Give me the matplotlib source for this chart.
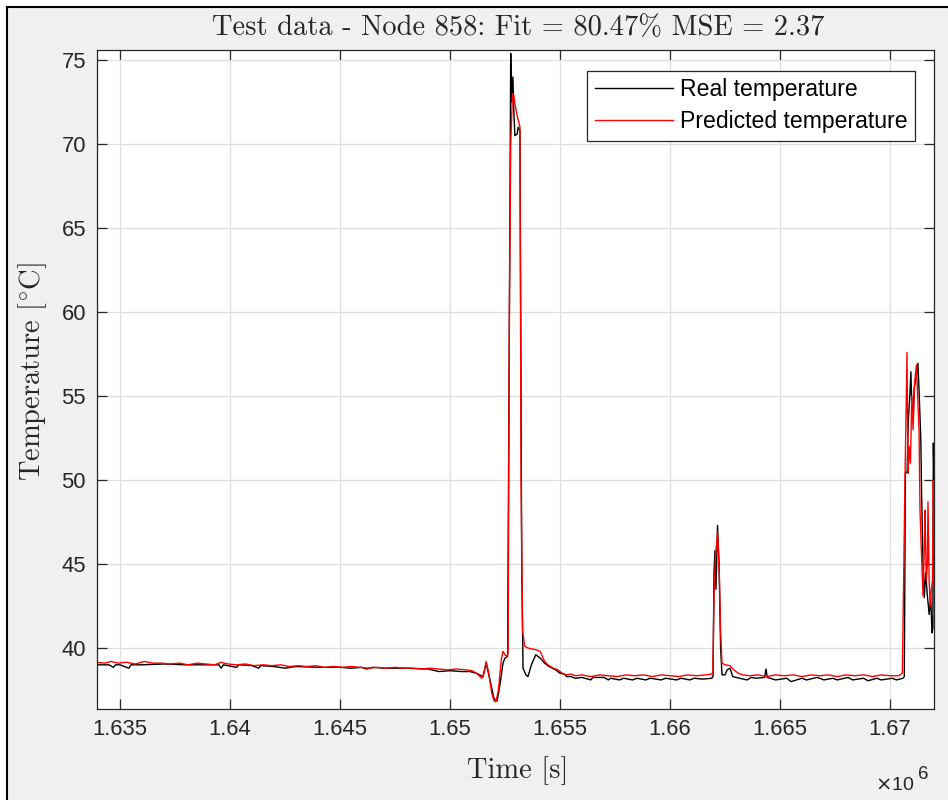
import numpy as np
import matplotlib.pyplot as plt
from matplotlib.patches import Rectangle
from matplotlib.lines import Line2D
from matplotlib.ticker import FuncFormatter

plt.rcParams['axes.unicode_minus'] = False

# ---- data (time in s, temperature in degC) ----
t_real = [
    1633950, 1634500, 1634700, 1634800, 1635000, 1635400, 1635500, 1636000,
    1637000, 1638000, 1639000, 1639500, 1639600, 1639700, 1640300, 1640400,
    1641000, 1641300, 1641400, 1642000, 1642500, 1643000, 1644000, 1645000,
    1645500, 1646000, 1646200, 1646500, 1647000, 1648000, 1649000, 1649500,
    1650000, 1650500, 1650900,
    1651200, 1651500, 1651640, 1651800, 1652000, 1652140, 1652270, 1652410,
    1652500, 1652620, 1652760, 1652800, 1652860, 1652900, 1652950, 1653050,
    1653100, 1653180, 1653260, 1653320, 1653450, 1653545, 1653700, 1653900,
    1654100, 1654300, 1654500, 1654800, 1655000, 1655200, 1655300, 1655500,
    1655700, 1656000, 1656400, 1656500, 1657000, 1657200, 1657300, 1657700,
    1657900, 1658300, 1658500, 1658900, 1659100, 1659600, 1659800, 1660300,
    1660500, 1660900, 1661100, 1661500, 1661900,
    1661955, 1662000, 1662045, 1662090, 1662160, 1662230, 1662300, 1662364,
    1662500, 1662600, 1662730, 1662850, 1663000, 1663500, 1663700, 1663900,
    1664300, 1664364, 1664420, 1664800, 1665300, 1665500, 1666000, 1666200,
    1666700, 1667000, 1667400, 1667600, 1668100, 1668300, 1668800, 1669000,
    1669400, 1669600, 1670100, 1670300, 1670590,
    1670650, 1670700, 1670780, 1670830, 1670900, 1670950, 1671000, 1671045,
    1671100, 1671180, 1671270, 1671330, 1671400, 1671440, 1671500, 1671560,
    1671620, 1671700, 1671780, 1671850, 1671910, 1671950, 1671970, 1672000,
]
temp_real = [
    39.0, 39.0, 38.85, 39.0, 39.0, 38.8, 39.0, 39.0,
    39.05, 39.0, 39.0, 39.0, 38.8, 39.0, 38.85, 39.0,
    38.95, 38.8, 38.95, 38.9, 38.8, 38.9, 38.85, 38.85,
    38.8, 38.85, 38.75, 38.85, 38.8, 38.8, 38.75, 38.6,
    38.65, 38.6, 38.6,
    38.5, 38.3, 39.1, 38.2, 37.0, 36.85, 37.8, 39.1,
    39.4, 39.5, 75.4, 72.5, 74.0, 72.0, 70.5, 70.6,
    71.0, 70.8, 45.0, 38.8, 38.4, 38.3, 39.0, 39.6,
    39.4, 39.1, 38.9, 38.7, 38.5, 38.45, 38.3, 38.3,
    38.2, 38.25, 38.1, 38.25, 38.25, 38.1, 38.2, 38.1,
    38.2, 38.1, 38.2, 38.1, 38.2, 38.1, 38.2, 38.1,
    38.2, 38.1, 38.2, 38.15, 38.2,
    38.3, 44.5, 45.8, 43.5, 47.3, 45.0, 40.0, 38.4,
    38.4, 38.7, 38.8, 38.3, 38.25, 38.1, 38.25, 38.2,
    38.25, 38.75, 38.25, 38.1, 38.2, 38.0, 38.2, 38.1,
    38.25, 38.1, 38.2, 38.1, 38.25, 38.1, 38.2, 38.05,
    38.2, 38.1, 38.2, 38.1, 38.2,
    38.3, 50.4, 50.5, 53.5, 55.0, 56.45, 54.0, 53.8,
    55.5, 56.0, 56.95, 55.0, 52.4, 49.0, 45.0, 43.0,
    44.5, 43.1, 42.0, 43.0, 40.9, 41.2, 52.2, 50.0,
]

t_pred = [
    1633950, 1634300, 1634600, 1634900, 1635300, 1635700, 1636100, 1636500,
    1636900, 1637300, 1637700, 1638100, 1638500, 1638900, 1639300, 1639600,
    1639900, 1640300, 1640700, 1641100, 1641500, 1641900, 1642300, 1642700,
    1643100, 1643500, 1643900, 1644300, 1644700, 1645100, 1645500, 1645900,
    1646300, 1646700, 1647100, 1647500, 1647900, 1648300, 1648700, 1649100,
    1649500, 1649900, 1650300, 1650700, 1651000,
    1651200, 1651450, 1651550, 1651640, 1651750, 1651900, 1652000, 1652090,
    1652200, 1652330, 1652410, 1652500, 1652590, 1652640, 1652700, 1652760,
    1652840, 1652900, 1652950, 1653050, 1653130, 1653180, 1653230, 1653300,
    1653400, 1653545, 1653700, 1653900, 1654100, 1654300, 1654450, 1654700,
    1654900, 1655100, 1655300, 1655500, 1655700,
    1656000, 1656400, 1656800, 1657200, 1657600, 1658000, 1658400, 1658800,
    1659200, 1659600, 1660000, 1660400, 1660800, 1661200, 1661600, 1661900,
    1661950, 1662000, 1662070, 1662160, 1662240, 1662300, 1662364, 1662500,
    1662727, 1662900, 1663100, 1663300,
    1663600, 1664000, 1664400, 1664800, 1665200, 1665600, 1666000, 1666400,
    1666800, 1667200, 1667600, 1668000, 1668400, 1668800, 1669200, 1669600,
    1670000, 1670400, 1670560,
    1670620, 1670680, 1670773, 1670818, 1670870, 1670930, 1670990, 1671050,
    1671120, 1671200, 1671260, 1671320, 1671364, 1671420, 1671500, 1671560,
    1671591, 1671650, 1671700, 1671727, 1671780, 1671830, 1671880, 1671930,
    1671970, 1672000,
]
temp_pred = [
    39.15, 39.1, 39.2, 39.1, 39.15, 39.05, 39.2, 39.1,
    39.1, 39.05, 39.1, 39.0, 39.1, 39.05, 39.0, 39.15,
    39.05, 39.0, 39.05, 38.95, 39.0, 38.95, 39.0, 38.9,
    38.95, 38.9, 38.95, 38.85, 38.9, 38.85, 38.9, 38.85,
    38.8, 38.85, 38.8, 38.85, 38.8, 38.8, 38.75, 38.8,
    38.75, 38.7, 38.75, 38.7, 38.65,
    38.5, 38.2, 38.5, 39.2, 38.6, 37.3, 36.85, 36.8,
    37.5, 39.3, 39.8, 39.6, 39.5, 39.7, 60.0, 70.0,
    73.0, 72.9, 72.4, 71.7, 71.3, 71.0, 50.0, 41.0,
    40.1, 40.0, 39.95, 39.9, 39.8, 39.2, 39.0, 38.8,
    38.7, 38.5, 38.4, 38.45, 38.35,
    38.4, 38.3, 38.4, 38.35, 38.3, 38.4, 38.35, 38.4,
    38.3, 38.4, 38.35, 38.3, 38.4, 38.35, 38.4, 38.45,
    38.6, 43.0, 45.5, 46.9, 44.5, 41.0, 39.1, 39.0,
    38.95, 38.7, 38.5, 38.4,
    38.35, 38.4, 38.3, 38.4, 38.35, 38.4, 38.3, 38.4,
    38.35, 38.4, 38.3, 38.4, 38.35, 38.4, 38.3, 38.4,
    38.35, 38.35, 38.5,
    44.0, 50.0, 57.6, 50.4, 52.0, 51.0, 55.0, 53.0,
    55.8, 56.85, 55.0, 53.0, 48.2, 46.0, 43.1, 46.0,
    48.2, 44.0, 45.0, 48.7, 44.0, 42.5, 43.5, 44.0,
    50.0, 45.7,
]

x_ticks = [1.635e6, 1.64e6, 1.645e6, 1.65e6, 1.655e6, 1.66e6, 1.665e6, 1.67e6]
y_ticks = [40, 45, 50, 55, 60, 65, 70, 75]

W, H = 948, 800
fig = plt.figure(figsize=(W / 100, H / 100), dpi=100, facecolor='white')

# grey MATLAB-style figure background with left/top border
fig.add_artist(Rectangle((7 / W, 0), 1, 1 - 7 / H, transform=fig.transFigure,
                         facecolor='#f0f0f0', edgecolor='none', zorder=-10))
fig.add_artist(Line2D([7 / W, 7 / W], [0, 1 - 7 / H], transform=fig.transFigure,
                      color='black', lw=1.5, zorder=-9))
fig.add_artist(Line2D([7 / W, 1], [1 - 7 / H, 1 - 7 / H], transform=fig.transFigure,
                      color='black', lw=1.5, zorder=-9))

ax = fig.add_axes([97 / W, (H - 709) / H, 837 / W, 659 / H])
ax.set_facecolor('white')

ax.plot(t_real, temp_real, color='black', lw=1.0, label='Real temperature')
ax.plot(t_pred, temp_pred, color='#ff0000', lw=1.0, label='Predicted temperature')

ax.set_xlim(1633955, 1672000)
ax.set_ylim(36.37, 75.6)
ax.set_xticks(x_ticks)
ax.set_yticks(y_ticks)
ax.xaxis.set_major_formatter(FuncFormatter(lambda v, _: f"{v / 1e6:g}"))

ax.grid(True, color='#dedede', lw=0.9)
ax.set_axisbelow(True)
for s in ax.spines.values():
    s.set_color('#262626')
    s.set_linewidth(0.9)
ax.tick_params(direction='in', length=7, width=0.9, top=True, right=True,
               colors='#262626', labelsize=15.8)
ax.tick_params(axis='x', pad=7)
ax.tick_params(axis='y', pad=8)
for lab in ax.get_xticklabels() + ax.get_yticklabels():
    lab.set_family('Liberation Sans')

leg = ax.legend(loc='upper right', bbox_to_anchor=((915 - 97) / 837, (709 - 71) / 659),
                borderaxespad=0, fancybox=False, framealpha=1, edgecolor='#262626',
                prop={'family': 'Liberation Sans', 'size': 16.6},
                handlelength=3.4, handletextpad=0.3, borderpad=0.32, labelspacing=0.38)
leg.get_frame().set_linewidth(0.9)

cm = ['cmr10', 'DejaVu Serif']
fig.text(518 / W, 1 - 28 / H, 'Test data - Node 858: Fit = 80.47% MSE = 2.37',
         ha='center', va='center', family=cm, fontsize=20.5, color='#262626')
fig.text(518 / W, 1 - 771 / H, 'Time [s]', ha='center', va='center',
         family=cm, fontsize=20.5, color='#262626')
fig.text(33 / W, 1 - 372 / H, r'Temperature [$^{\circ}$C]', ha='center', va='center',
         rotation=90, family=cm, math_fontfamily='cm', fontsize=20.5, color='#262626')

# exponent label of the x axis
fig.text(875 / W, 1 - 790 / H, r'$\times$10', ha='left', va='baseline',
         family='Liberation Sans', math_fontfamily='dejavusans',
         fontsize=14, color='#262626')
fig.text(918 / W, 1 - 779 / H, '6', ha='left', va='baseline',
         family='Liberation Sans', fontsize=13.5, color='#262626')

fig.savefig('out.png', dpi=100)
